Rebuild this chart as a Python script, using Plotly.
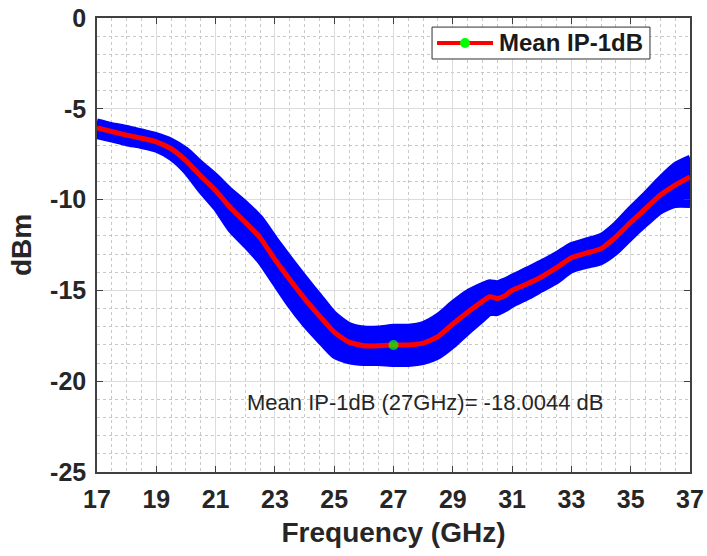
import plotly.graph_objects as go

# ---- data ----
freq_ghz = [17.0, 17.5, 18.0, 18.5, 19.0, 19.5, 20.0, 20.5, 21.0, 21.5, 22.0, 22.5,
            23.0, 23.5, 24.0, 24.5, 25.0, 25.5, 26.0, 26.5, 27.0, 27.5, 28.0, 28.5,
            29.0, 29.5, 30.0, 30.25, 30.5, 30.75, 31.0, 31.5, 32.0, 32.5, 33.0, 33.5,
            34.0, 34.5, 35.0, 35.5, 36.0, 36.5, 37.0]

mean_ip1db = [-6.06, -6.25, -6.45, -6.62, -6.82, -7.2, -7.85, -8.7, -9.5, -10.45, -11.25, -12.1,
              -13.3, -14.4, -15.45, -16.4, -17.3, -17.85, -18.05, -18.05, -18.0044, -18.0, -17.9, -17.55,
              -16.85, -16.2, -15.6, -15.35, -15.45, -15.3, -15.0, -14.65, -14.25, -13.75, -13.2, -12.95,
              -12.7, -12.05, -11.25, -10.5, -9.75, -9.2, -8.75]

# envelope of all measured traces (blue band)
band_upper = [-5.7, -5.9, -6.05, -6.25, -6.45, -6.75, -7.25, -8.0, -8.7, -9.5, -10.2, -11.0,
              -12.15, -13.25, -14.3, -15.3, -16.3, -16.9, -17.1, -17.1, -17.0, -17.0, -16.85, -16.4,
              -15.7, -15.1, -14.7, -14.55, -14.6, -14.45, -14.25, -13.85, -13.45, -13.0, -12.5, -12.25,
              -12.0, -11.35, -10.5, -9.7, -8.85, -8.1, -7.7]
band_lower = [-6.5, -6.7, -6.9, -7.05, -7.25, -7.7, -8.45, -9.5, -10.45, -11.65, -12.5, -13.4,
              -14.6, -15.8, -16.85, -17.75, -18.6, -18.9, -19.0, -19.0, -19.05, -19.05, -18.95, -18.65,
              -18.05, -17.3, -16.6, -16.25, -16.25, -16.05, -15.8, -15.4, -14.95, -14.5, -13.9, -13.65,
              -13.45, -12.9, -12.1, -11.35, -10.65, -10.3, -10.3]

marker_freq = 27.0
marker_value = -18.0044
legend_label = "Mean IP-1dB"

x_ticks = [17, 19, 21, 23, 25, 27, 29, 31, 33, 35, 37]
y_ticks = [-25, -20, -15, -10, -5, 0]

FONT = "Arial, Liberation Sans, Helvetica, sans-serif"
BLUE = "#0000ff"
RED = "#ff0000"
GREEN = "#00ff00"
AXC = "#404040"

fig = go.Figure()

fig.add_trace(go.Scatter(x=freq_ghz, y=band_lower, mode="lines",
                         line=dict(color=BLUE, width=6, shape="spline", smoothing=0.6),
                         showlegend=False, hoverinfo="skip"))
fig.add_trace(go.Scatter(x=freq_ghz, y=band_upper, mode="lines", fill="tonexty",
                         fillcolor=BLUE,
                         line=dict(color=BLUE, width=6, shape="spline", smoothing=0.6),
                         showlegend=False, hoverinfo="skip"))

sizes = [10 if f == marker_freq else 0 for f in freq_ghz]
fig.add_trace(go.Scatter(x=freq_ghz, y=mean_ip1db, mode="lines+markers",
                         name=legend_label, showlegend=False,
                         line=dict(color=RED, width=5, shape="spline", smoothing=0.5),
                         marker=dict(color=GREEN, size=sizes, line=dict(width=0))))

fig.add_annotation(x=22.0, y=-21.15, xref="x", yref="y", xanchor="left", yanchor="middle",
                   text=f"Mean IP-1dB (27GHz)= {marker_value} dB", showarrow=False,
                   font=dict(family=FONT, size=22, color="#262626"))

# legend box (MATLAB style: line with marker, bold label)
LEG_Y = 0.945
fig.add_shape(type="rect", xref="paper", yref="paper", x0=0.565, x1=0.9325, y0=0.9097, y1=0.980,
              fillcolor="white", line=dict(color="#303030", width=1), layer="above")
fig.add_shape(type="line", xref="paper", yref="paper", x0=0.5734, x1=0.6678, y0=LEG_Y, y1=LEG_Y,
              line=dict(color=RED, width=4), layer="above")
fig.add_shape(type="circle", xref="paper", yref="paper", xsizemode="pixel", ysizemode="pixel",
              xanchor=0.6206, yanchor=LEG_Y, x0=-5, x1=5, y0=-5, y1=5,
              fillcolor=GREEN, line=dict(width=0), layer="above")
fig.add_annotation(x=0.6745, y=LEG_Y, xref="paper", yref="paper", xanchor="left", yanchor="middle",
                   text=legend_label, showarrow=False,
                   font=dict(family=FONT, size=24, color="#1a1a1a", weight="bold"))

fig.update_layout(
    width=707, height=556,
    margin=dict(l=97, r=17, t=18, b=84),
    paper_bgcolor="white", plot_bgcolor="white",
    font=dict(family=FONT, color="#262626"),
    showlegend=False,
)

fig.update_xaxes(range=[17, 37], tickvals=x_ticks, ticktext=[str(v) for v in x_ticks],
                 automargin=False, ticklabeloverflow="allow",
                 showline=True, linecolor=AXC, linewidth=1.5, mirror="ticks",
                 ticks="inside", ticklen=6, tickcolor=AXC, tickwidth=1,
                 ticklabelstandoff=4,
                 showgrid=True, gridcolor="#dcdcdc", gridwidth=1, zeroline=False,
                 minor=dict(dtick=0.5, showgrid=True, gridcolor="#c8c8c8", griddash="dot", gridwidth=1),
                 tickfont=dict(family=FONT, size=25, color="#262626", weight="bold"),
                 title=dict(text="Frequency (GHz)", standoff=11,
                            font=dict(family=FONT, size=28, color="#262626", weight="bold")))
fig.update_yaxes(range=[-25, 0], tickvals=y_ticks, ticktext=[str(v) for v in y_ticks],
                 automargin=False, ticklabeloverflow="allow",
                 showline=True, linecolor=AXC, linewidth=1.5, mirror="ticks",
                 ticks="inside", ticklen=6, tickcolor=AXC, tickwidth=1,
                 ticklabelstandoff=4,
                 showgrid=True, gridcolor="#dcdcdc", gridwidth=1, zeroline=False,
                 minor=dict(dtick=1, showgrid=True, gridcolor="#c8c8c8", griddash="dot", gridwidth=1),
                 tickfont=dict(family=FONT, size=25, color="#262626", weight="bold"),
                 title=dict(text="dBm", standoff=10,
                            font=dict(family=FONT, size=28, color="#262626", weight="bold")))

fig.write_html("out.html",
               config={"displayModeBar": False},
               post_script="document.body.style.margin='0';"
                           "document.documentElement.style.overflow='hidden';")
